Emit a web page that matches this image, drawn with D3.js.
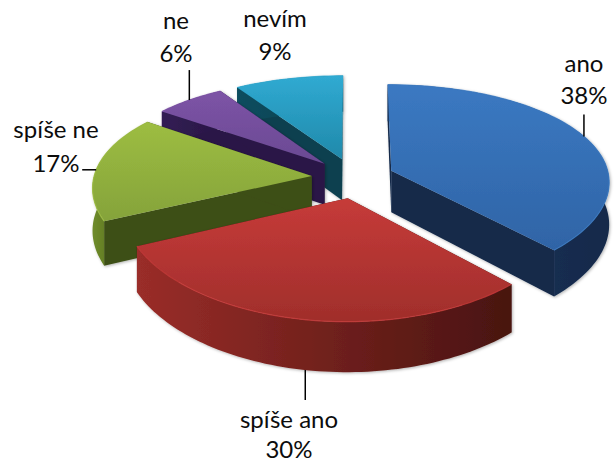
<!DOCTYPE html>
<html><head><meta charset="utf-8">
<style>html,body{margin:0;background:#fff}svg{display:block}text{font-family:Lato,"Open Sans",sans-serif;fill:#0c0c0c}</style>
<script src="https://cdn.jsdelivr.net/npm/d3@7/dist/d3.min.js"></script>
</head><body><svg id="c" width="614" height="463"></svg>
<script>
const categories = ["ano","spíše ano","spíše ne","ne","nevím"];
const values = [38,30,17,6,9];
const topLight = ["#3b79c2","#c63b39","#9dbd42","#7d53a6","#30aad2"];
const topDark  = ["#2f64a6","#a02e2b","#85a33a","#6a4a93","#2089aa"];
const sideLight= ["#1c3a62","#9a2d29","#6f8c2a","#321d54","#0f4d5e"];
const sideDark = ["#13294a","#481410","#3e4f18","#2a1746","#0c4150"];

// projection of the pie plane
const cx=354, cy=178, Rx=218, Ry=100, perspX=0.10, perspY=0.14, depth=42, explode=0.2;
const sliceShiftX=[-3,2,1,0,0];
const labelPos=[[584,72,104],[289,428,458],[56,138,172],[176,29,62],[275,27,60]];
const leaderDir=[[0,-1,22],[0,1,30],[-1,0,14],[0,-1,30],null];
const leaderTurn=[0,-0.02,-0.03,0,0];

function project(X,Y){const wx=1/(1-perspX*Y), wy=1/(1-perspY*Y);return {x:cx+Rx*X*wx,y:cy+Ry*Y*wy,w:wy};}
const svg=d3.select("#c"), defs=svg.append("defs");
const pie=d3.pie().sort(null).value(d=>d)(values);
const line=d3.line().x(d=>d.x).y(d=>d.y);
const drop=p=>({x:p.x,y:p.y+depth*p.w,w:p.w});

const f=defs.append("filter").attr("id","sh").attr("x","-10%").attr("y","-10%").attr("width","120%").attr("height","120%");
f.append("feDropShadow").attr("dx",1).attr("dy",1).attr("stdDeviation",1.5).attr("flood-color","#000").attr("flood-opacity",.3);

const slices=pie.map((d,i)=>{
  const mid=(d.startAngle+d.endAngle)/2;
  const ox=Math.sin(mid)*explode, oy=-Math.cos(mid)*explode;
  const n=Math.max(8,Math.ceil((d.endAngle-d.startAngle)*40));
  const shift=p=>({x:p.x+sliceShiftX[i],y:p.y,w:p.w});
  const at=a=>shift(project(ox+Math.sin(a),oy-Math.cos(a)));
  const rim=d3.range(n+1).map(k=>at(d.startAngle+(d.endAngle-d.startAngle)*k/n));
  return {i,mid,apex:shift(project(ox,oy)),rim,anchor:at(mid+leaderTurn[i])};
});
[0,1,2,3,4].forEach(i=>{
  let g=defs.append("linearGradient").attr("id","t"+i).attr("x1",0).attr("y1",0).attr("x2",0).attr("y2",1);
  g.append("stop").attr("offset",0).attr("stop-color",topLight[i]);
  g.append("stop").attr("offset",1).attr("stop-color",topDark[i]);
  g=defs.append("linearGradient").attr("id","s"+i).attr("x1",0).attr("y1",0).attr("x2",1).attr("y2",0);
  g.append("stop").attr("offset",0).attr("stop-color",sideLight[i]);
  g.append("stop").attr("offset",1).attr("stop-color",sideDark[i]);
});
const order=[4,3,2,0,1];
order.forEach(i=>{
  const s=slices[i], g=svg.append("g").attr("filter","url(#sh)");
  const a=s.apex, r=s.rim, first=r[0], last=r[r.length-1];
  g.append("path").attr("d",line([a,first,drop(first),drop(a)])+"Z").attr("fill",sideDark[i]);
  g.append("path").attr("d",line([a,last,drop(last),drop(a)])+"Z").attr("fill",sideDark[i]);
  g.append("path").attr("d",line(r.concat(r.map(drop).reverse()))+"Z").attr("fill",`url(#s${i})`);
  g.append("path").attr("d",line([a,...r])+"Z").attr("fill",`url(#t${i})`);
  g.append("path").attr("d",line(r)).attr("fill","none").attr("stroke",topLight[i]).attr("stroke-width",1.2).attr("opacity",.8);
});
categories.forEach((c,i)=>{
  const s=slices[i], dir=leaderDir[i], [lx,y1,y2]=labelPos[i];
  if(dir){
    const p=dir[1]>0?drop(s.anchor):s.anchor;
    svg.append("line").attr("x1",p.x).attr("y1",p.y).attr("x2",p.x+dir[0]*dir[2]).attr("y2",p.y+dir[1]*dir[2]).attr("stroke","#000").attr("stroke-width",1.5);
  }
  svg.append("text").attr("x",lx).attr("y",y1).attr("text-anchor","middle").attr("font-size",24).text(c);
  svg.append("text").attr("x",lx).attr("y",y2).attr("text-anchor","middle").attr("font-size",24).text(values[i]+"%");
});
</script></body></html>
